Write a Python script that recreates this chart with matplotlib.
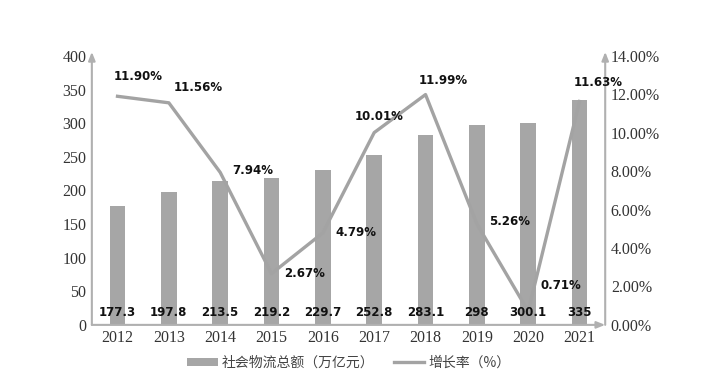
import matplotlib
matplotlib.use("Agg")
import numpy as np
import matplotlib.pyplot as plt
from matplotlib.ticker import FuncFormatter

years = ["2012", "2013", "2014", "2015", "2016", "2017", "2018", "2019", "2020", "2021"]
total = [177.3, 197.8, 213.5, 219.2, 229.7, 252.8, 283.1, 298, 300.1, 335]
total_labels = ["177.3", "197.8", "213.5", "219.2", "229.7", "252.8", "283.1", "298", "300.1", "335"]
growth = [11.90, 11.56, 7.94, 2.67, 4.79, 10.01, 11.99, 5.26, 0.71, 11.63]

# label offsets in pixels (dx, dy) for growth labels
pct_off = [(21, 20), (29, 15), (33, 2), (33, 0), (33, 0),
           (5, 16), (18, 14), (33, 2), (33, 26), (19, 19)]

BAR = "#a6a6a6"
LINE = "#a3a3a3"
AXIS = "#b0b0b0"
TXT = "#333333"
serif = ["Liberation Serif", "DejaVu Serif"]

plt.rcParams["font.family"] = ["Noto Sans CJK SC", "DejaVu Sans"]

fig = plt.figure(figsize=(7.12, 3.73), dpi=100)
ax = fig.add_axes([0.129, 0.129, 0.721, 0.721])
ax2 = ax.twinx()

x = np.arange(len(years))
ax.bar(x, total, width=0.31, color=BAR, label="社会物流总额（万亿元）", zorder=2)
ax2.plot(x, growth, color=LINE, lw=2.4, label="增长率（%）", zorder=3)

for xi, lab in zip(x, total_labels):
    ax2.annotate(lab, (xi, 0), xytext=(0, 6), textcoords="offset pixels",
                 ha="center", va="bottom", fontsize=8.5, fontweight="bold",
                 family="DejaVu Sans", color="#111111", zorder=5)

for xi, g, (dx, dy) in zip(x, growth, pct_off):
    ax2.annotate(f"{g:.2f}%", (xi, g), xytext=(dx, dy), textcoords="offset pixels",
                 ha="center", va="center", fontsize=8.5, fontweight="bold",
                 family="DejaVu Sans", color="#111111", zorder=5)

ax.set_xlim(-0.5, 9.5)
ax.set_ylim(0, 400)
ax2.set_ylim(0, 14)
ax.set_yticks(np.arange(0, 401, 50))
ax2.set_yticks(np.arange(0, 14.01, 2))
ax2.yaxis.set_major_formatter(FuncFormatter(lambda v, p: f"{v:.2f}%"))
ax.set_xticks(x)
ax.set_xticklabels(years)

for a in (ax, ax2):
    a.tick_params(length=0, labelsize=11.5, colors=TXT, pad=4)
    for lab in a.get_xticklabels() + a.get_yticklabels():
        lab.set_family(serif)
    for s in a.spines.values():
        s.set_visible(False)

# axis lines with arrowheads
arrow = dict(arrowstyle="-|>,head_length=0.5,head_width=0.2", color=AXIS, lw=1.5,
             shrinkA=0, shrinkB=0)
ax2.annotate("", xy=(0, 1.015), xytext=(0, 0), xycoords="axes fraction", arrowprops=arrow)
ax2.annotate("", xy=(1.0, 0), xytext=(0, 0), xycoords="axes fraction", arrowprops=arrow)
ax2.annotate("", xy=(1.0, 1.015), xytext=(1.0, 0), xycoords="axes fraction", arrowprops=arrow)

h1, l1 = ax.get_legend_handles_labels()
h2, l2 = ax2.get_legend_handles_labels()
fig.legend(h1 + h2, l1 + l2, loc="center", bbox_to_anchor=(0.49, 0.027), ncol=2,
           frameon=False, fontsize=10, handlelength=2.2, handleheight=0.6,
           columnspacing=1.4, handletextpad=0.3, labelcolor="#444444")

fig.savefig("out.png", dpi=100, facecolor="white")
